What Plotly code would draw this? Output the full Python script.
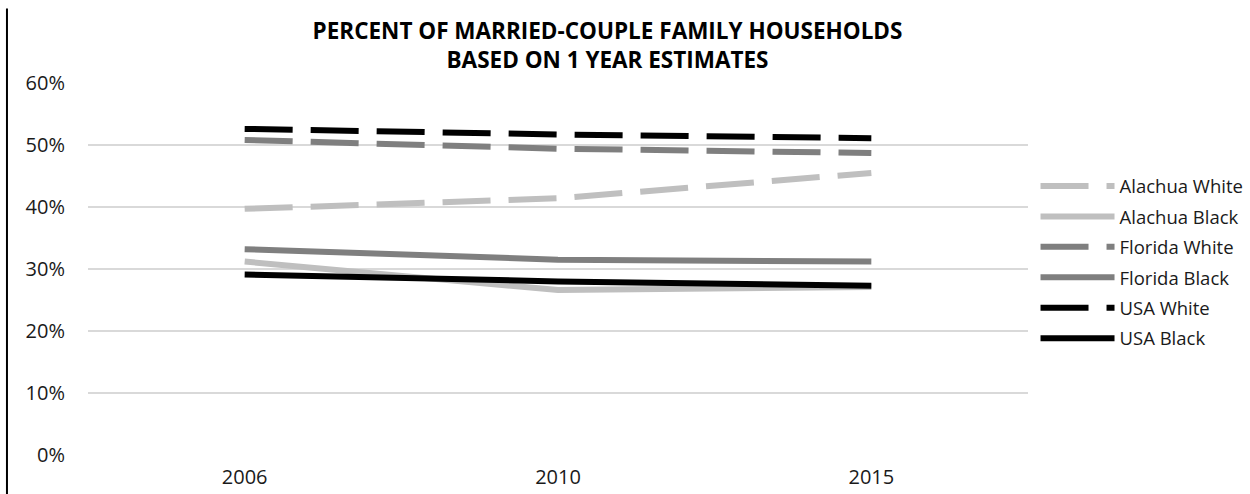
import plotly.graph_objects as go

years = ["2006", "2010", "2015"]

alachua_white = [0.397, 0.414, 0.455]
alachua_black = [0.312, 0.266, 0.271]
florida_white = [0.508, 0.494, 0.487]
florida_black = [0.332, 0.315, 0.312]
usa_white = [0.526, 0.517, 0.511]
usa_black = [0.291, 0.280, 0.273]

series = [
    ("Alachua White", alachua_white, "#BFBFBF", "48px,18px"),
    ("Alachua Black", alachua_black, "#BFBFBF", "solid"),
    ("Florida White", florida_white, "#7F7F7F", "48px,18px"),
    ("Florida Black", florida_black, "#7F7F7F", "solid"),
    ("USA White", usa_white, "#000000", "48px,18px"),
    ("USA Black", usa_black, "#000000", "solid"),
]

FONT = "Open Sans"

fig = go.Figure()
for i, (name, vals, color, dash) in enumerate(series):
    fig.add_trace(go.Scatter(
        x=years, y=vals, name=name, mode="lines",
        line=dict(color=color, width=6, dash=dash),
        legendgroup=f"g{i}",
    ))

fig.update_layout(
    width=1250, height=494,
    margin=dict(l=88, r=222, t=83, b=39, autoexpand=False),
    paper_bgcolor="white", plot_bgcolor="white",
    font=dict(family=FONT, color="#1a1a1a"),
    title=dict(
        text="<b>PERCENT OF MARRIED-COUPLE FAMILY HOUSEHOLDS<br>BASED ON 1 YEAR ESTIMATES</b>",
        x=0.486, xanchor="center", y=0.922, yanchor="top",
        font=dict(family=FONT, size=22.5, color="#000000"),
    ),
    legend=dict(
        x=1.008, xanchor="left", y=0.773, yanchor="top",
        font=dict(family=FONT, size=18.5, color="#1a1a1a"),
        tracegroupgap=3.4, itemwidth=74,
        bgcolor="rgba(0,0,0,0)",
    ),
    showlegend=True,
)

fig.update_xaxes(
    type="category", range=[-0.5, 2.5], automargin=False,
    showgrid=False, showline=False, zeroline=False, ticks="",
    ticklabelstandoff=8,
    tickfont=dict(family=FONT, size=20, color="#1a1a1a"),
)
fig.update_yaxes(
    range=[0, 0.6], tickvals=[0, 0.1, 0.2, 0.3, 0.4, 0.5, 0.6], automargin=False,
    tickformat=".0%", showgrid=True, gridcolor="#D9D9D9", gridwidth=1.5,
    zeroline=False, showline=False, ticks="", ticklabelstandoff=22,
    tickfont=dict(family=FONT, size=20, color="#1a1a1a"),
)

# Left border rule
fig.add_shape(
    type="line", xref="paper", yref="paper",
    x0=-0.0862, x1=-0.0862, y0=1.2, y1=-0.11,
    line=dict(color="#000000", width=2),
)

fig.write_html("out.html")
